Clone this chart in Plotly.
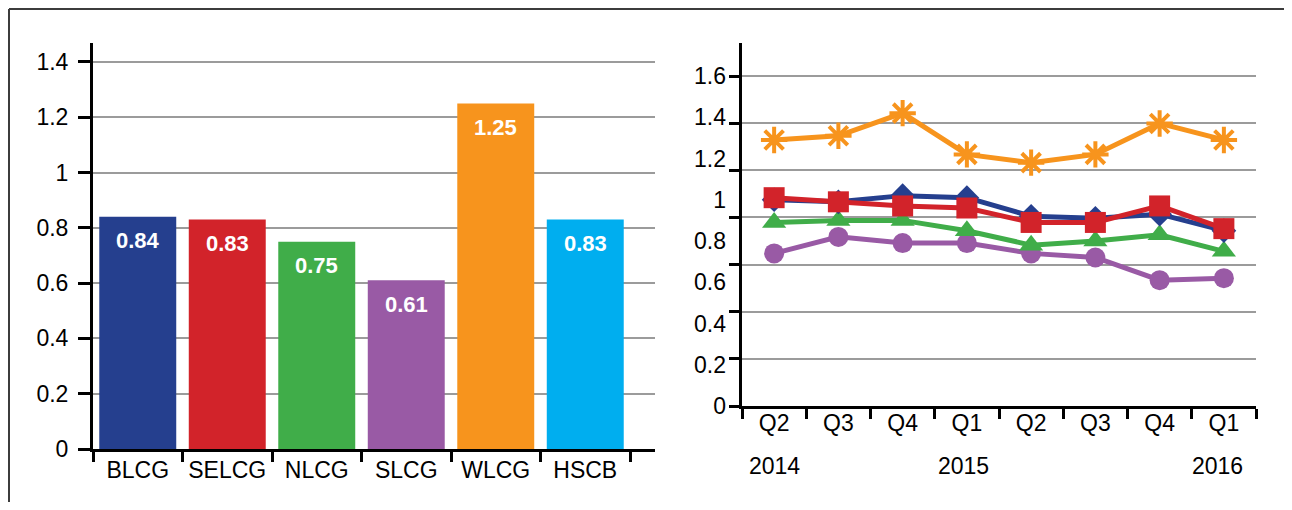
import plotly.graph_objects as go

# ---------------- data ----------------
bar_categories = ["BLCG", "SELCG", "NLCG", "SLCG", "WLCG", "HSCB"]
bar_values = [0.84, 0.83, 0.75, 0.61, 1.25, 0.83]
bar_colors = ["#253F8E", "#D2232A", "#40AD49", "#995AA5", "#F7941D", "#00AEEF"]

quarters = ["Q2", "Q3", "Q4", "Q1", "Q2", "Q3", "Q4", "Q1"]
year_labels = ["2014", "2015", "2016"]
year_positions = [0, 3, 7]

series_blcg = [1.00, 0.99, 1.02, 1.01, 0.92, 0.91, 0.93, 0.85]
series_selcg = [1.01, 0.99, 0.97, 0.96, 0.89, 0.89, 0.97, 0.86]
series_nlcg = [0.89, 0.90, 0.90, 0.85, 0.78, 0.80, 0.83, 0.75]
series_slcg = [0.74, 0.82, 0.79, 0.79, 0.74, 0.72, 0.61, 0.62]
series_wlcg = [1.29, 1.31, 1.42, 1.22, 1.18, 1.22, 1.37, 1.29]

left_ticks = [0, 0.2, 0.4, 0.6, 0.8, 1.0, 1.2, 1.4]
left_tick_text = ["0", "0.2", "0.4", "0.6", "0.8", "1", "1.2", "1.4"]
right_label_vals = [0, 0.2, 0.4, 0.6, 0.8, 1.0, 1.2, 1.4, 1.6]
right_label_text = ["0", "0.2", "0.4", "0.6", "0.8", "1", "1.2", "1.4", "1.6"]
right_grid_count = 8

# ---------------- styling ----------------
OFF = 8                      # page body margin
W, H = 1292 - 2 * OFF, 510 - 2 * OFF
FONT = "Liberation Sans, Arial, Helvetica, sans-serif"
FS = 23
GRID = "#9b9b9b"

def px_x(p):
    return (p - OFF) / W

def px_y(p):
    return (H - (p - OFF)) / H

fig = go.Figure()

x_idx = list(range(len(bar_categories)))
fig.add_trace(go.Bar(
    x=x_idx, y=bar_values, marker=dict(color=bar_colors, line=dict(width=0)),
    width=0.86, xaxis="x", yaxis="y", hoverinfo="skip",
))

for i, v in enumerate(bar_values):
    fig.add_annotation(
        x=i, y=v, xref="x", yref="y", text=f"<b>{v:.2f}</b>", showarrow=False,
        yshift=-24, font=dict(family=FONT, size=FS - 1, color="white"),
    )

q_idx = list(range(len(quarters)))
line_specs = [
    (series_slcg, "#995AA5", "circle", 20, 0),
    (series_nlcg, "#40AD49", "triangle-up", 21, 0),
    (series_blcg, "#253F8E", "diamond", 19, 0),
    (series_selcg, "#D2232A", "square", 21, 0),
    (series_wlcg, "#F7941D", "asterisk-open", 22, 4),
]
for ys, col, sym, sz, lw in line_specs:
    fig.add_trace(go.Scatter(
        x=q_idx, y=ys, mode="lines+markers", xaxis="x2", yaxis="y2",
        line=dict(color=col, width=5),
        marker=dict(symbol=sym, size=sz, color=col, line=dict(color=col, width=lw)),
        hoverinfo="skip",
    ))

for txt, pos in zip(year_labels, year_positions):
    fig.add_annotation(
        x=pos, y=px_y(466), xref="x2", yref="paper", text=txt, showarrow=False,
        xshift=(-6 if txt == "2016" else (-3 if txt == "2015" else 0)),
        font=dict(family=FONT, size=FS, color="black"), yanchor="middle",
    )

# outer frame: top and left edges
FRAME = "#3c3c3c"
fig.add_shape(type="line", xref="paper", yref="paper",
              x0=px_x(9), x1=1.0, y0=px_y(9), y1=px_y(9),
              line=dict(color=FRAME, width=2), layer="above")
fig.add_shape(type="line", xref="paper", yref="paper",
              x0=px_x(9), x1=px_x(9), y0=0, y1=px_y(9),
              line=dict(color=FRAME, width=2), layer="above")

tickfont = dict(family=FONT, size=FS, color="black")

n_bars = len(bar_categories)
left_step = (630 - 93) / n_bars
left_end = n_bars - 0.5 + (655 - 630) / left_step

fig.update_layout(
    width=W, height=H, template="none",
    paper_bgcolor="white", plot_bgcolor="white",
    margin=dict(l=0, r=0, t=0, b=0), showlegend=False,
    xaxis=dict(
        domain=[px_x(93), px_x(655)], range=[-0.5, left_end], anchor="y",
        tickmode="array", tickvals=x_idx, ticktext=bar_categories, ticks="",
        minor=dict(tickmode="array", tickvals=[i - 0.5 for i in range(n_bars + 1)],
                   ticks="outside", ticklen=10, tickwidth=2.5, tickcolor="black", showgrid=False),
        showline=True, linecolor="black", linewidth=3, showgrid=False, zeroline=False,
        tickfont=tickfont, ticklabelstandoff=-2,
    ),
    yaxis=dict(
        domain=[px_y(449), px_y(43)], range=[0, (449 - 43) / 276.5], anchor="x",
        tickmode="array", tickvals=left_ticks, ticktext=left_tick_text,
        ticks="outside", ticklen=12, tickwidth=2.5, tickcolor="black",
        showline=True, linecolor="black", linewidth=3,
        showgrid=True, gridcolor=GRID, gridwidth=2, zeroline=False,
        tickfont=tickfont, ticklabelstandoff=5,
    ),
    xaxis2=dict(
        domain=[px_x(742), px_x(1256)], range=[-0.5, len(quarters) - 0.5], anchor="y2",
        tickmode="array", tickvals=q_idx, ticktext=quarters, ticks="",
        minor=dict(tickmode="array", tickvals=[i - 0.5 for i in range(len(quarters) + 1)],
                   ticks="outside", ticklen=10, tickwidth=2.5, tickcolor="black", showgrid=False),
        showline=True, linecolor="black", linewidth=3, showgrid=False, zeroline=False,
        tickfont=tickfont, ticklabelstandoff=-6,
    ),
    yaxis2=dict(
        domain=[px_y(406), px_y(43)], range=[0, (406 - 43) / 206.25], anchor="x2",
        tickmode="array", tickvals=[1.6 * i / (right_grid_count - 1) for i in range(right_grid_count)],
        showticklabels=False,
        ticks="outside", ticklen=10, tickwidth=2.5, tickcolor="black",
        showline=True, linecolor="black", linewidth=3,
        showgrid=True, gridcolor=GRID, gridwidth=2, zeroline=False,
    ),
    yaxis3=dict(
        overlaying="y2", anchor="x2", side="left",
        range=[0, (406 - 43) / 206.25],
        tickmode="array", tickvals=right_label_vals, ticktext=right_label_text,
        ticks="", showline=False, showgrid=False, zeroline=False,
        tickfont=tickfont, ticklabelstandoff=15,
    ),
)

# invisible trace so the label axis is drawn
fig.add_trace(go.Scatter(x=[None], y=[None], xaxis="x2", yaxis="y3", showlegend=False, hoverinfo="skip"))

fig.write_html("out.html")
